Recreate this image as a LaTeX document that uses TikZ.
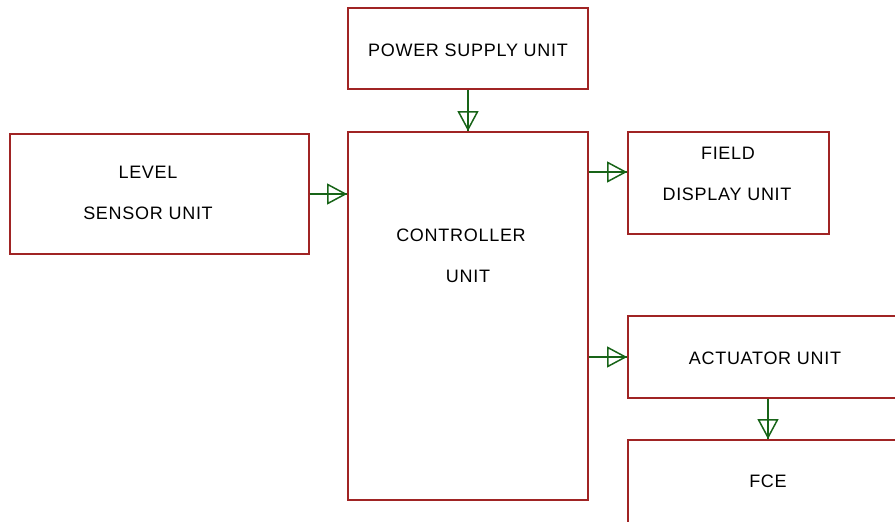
\documentclass[tikz,border=0pt]{standalone}
\usepackage{fontspec}
\setmainfont[LetterSpace=4]{Liberation Sans}
\usetikzlibrary{positioning,arrows.meta}
\definecolor{boxred}{RGB}{160,36,36}
\definecolor{linkgreen}{RGB}{24,100,24}
\tikzset{
  unit/.style={rectangle,draw=boxred,line width=1.8pt,inner sep=0pt},
  caption/.style={inner sep=0pt,font=\fontsize{18}{22}\selectfont},
  link/.style={draw=linkgreen,line width=1.5pt,-{Triangle[open,length=20pt,width=21pt]},postaction={draw=linkgreen,-}}
}
\begin{document}
\begin{tikzpicture}[x=1pt,y=-1pt]
  \useasboundingbox (0,0) rectangle (895,522);
  \clip (0,0) rectangle (895,522);
  % boxes
  \node[unit,minimum width=240pt,minimum height=81pt] (psu) at (468,48.5) {};
  \node[unit,minimum width=240pt,minimum height=368pt] (ctrl) at (468,316) {};
  \node[unit,minimum width=299pt,minimum height=120pt] (level) at (159.5,194) {};
  \node[unit,minimum width=201pt,minimum height=102pt] (disp) at (728.5,183) {};
  \node[unit,minimum width=280pt,minimum height=82pt] (act) at (768,357) {};
  \node[unit,minimum width=280pt,minimum height=100pt] (fce) at (768,490) {};
  % texts
  \node[caption] (psutxt) at (468,50) {POWER SUPPLY UNIT};
  \node[caption] (leveltxt) at (148,172) {LEVEL};
  \node[caption] (sensortxt) at (148,213) {SENSOR UNIT};
  \node[caption] (ctrltxt) at (461,235) {CONTROLLER};
  \node[caption] (unittxt) at (468,276) {UNIT};
  \node[caption] (fieldtxt) at (728,153) {FIELD};
  \node[caption] (disptxt) at (727,194) {DISPLAY UNIT};
  \node[caption] (acttxt) at (765,358) {ACTUATOR UNIT};
  \node[caption] (fcetxt) at (768,481) {FCE};
  % connectors
  \draw[link] (psu) -- (ctrl);
  \draw[link] (level.east) -- (level.east -| ctrl.west);
  \draw[link] ([yshift=11pt]disp.west -| ctrl.east) -- ([yshift=11pt]disp.west);
  \draw[link] (act.west -| ctrl.east) -- (act.west);
  \draw[link] (act) -- (fce);
\end{tikzpicture}
\end{document}
